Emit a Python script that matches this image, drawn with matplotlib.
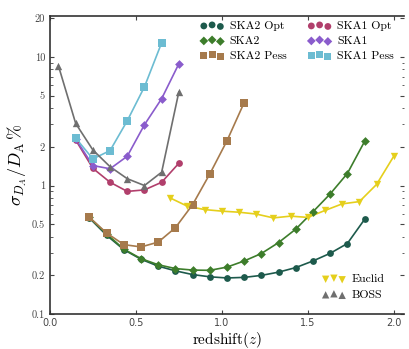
import matplotlib
matplotlib.use('Agg')
import matplotlib.pyplot as plt
from matplotlib.ticker import FixedLocator, NullFormatter, LogLocator

plt.rcParams['mathtext.fontset'] = 'cm'
plt.rcParams['font.family'] = ['cmr10', 'DejaVu Serif']
plt.rcParams['axes.formatter.use_mathtext'] = True

# redshift bins
z_ska2 = [0.23, 0.33, 0.43, 0.53, 0.63, 0.73, 0.83, 0.93, 1.03, 1.13,
          1.23, 1.33, 1.43, 1.53, 1.63, 1.73, 1.83]
z_ska2_pess = z_ska2[:10]
z_ska1 = [0.15, 0.25, 0.35, 0.45, 0.55, 0.65, 0.75]
z_ska1_pess = z_ska1[:6]
z_euclid = [0.7, 0.8, 0.9, 1.0, 1.1, 1.2, 1.3, 1.4, 1.5, 1.6, 1.7, 1.8, 1.9, 2.0]
z_boss = [0.05, 0.15, 0.25, 0.35, 0.45, 0.55, 0.65, 0.75]

# sigma_DA / DA in %
ska2_opt = [0.558, 0.41, 0.317, 0.267, 0.236, 0.217, 0.203, 0.195, 0.191, 0.193,
            0.20, 0.212, 0.23, 0.259, 0.297, 0.354, 0.545]
ska2 = [0.565, 0.42, 0.32, 0.27, 0.242, 0.226, 0.22, 0.219, 0.232, 0.259,
        0.296, 0.36, 0.458, 0.625, 0.86, 1.24, 2.2]
ska2_pess = [0.565, 0.427, 0.347, 0.333, 0.363, 0.47, 0.71, 1.23, 2.23, 4.42]
ska1_opt = [2.26, 1.36, 1.06, 0.90, 0.925, 1.06, 1.49]
ska1 = [2.30, 1.43, 1.35, 1.69, 2.97, 4.74, 8.85]
ska1_pess = [2.34, 1.61, 1.87, 3.19, 5.86, 12.9]
euclid = [0.80, 0.69, 0.65, 0.632, 0.62, 0.60, 0.56, 0.578, 0.565, 0.64,
          0.72, 0.75, 1.02, 1.69]
boss = [8.5, 3.04, 1.89, 1.40, 1.13, 1.0, 1.27, 5.35]

fig = plt.figure(figsize=(4.09, 3.49), dpi=100)
ax = fig.add_axes([0.122, 0.1, 0.866, 0.854])

series = [
    (z_ska2, ska2_opt, '#1d5a4c', 'o', 'SKA2 Opt'),
    (z_ska2, ska2, '#3d7d2b', 'D', 'SKA2'),
    (z_ska2_pess, ska2_pess, '#a67a4c', 's', 'SKA2 Pess'),
    (z_ska1, ska1_opt, '#b13f6c', 'o', 'SKA1 Opt'),
    (z_ska1, ska1, '#8a5ccc', 'D', 'SKA1'),
    (z_ska1_pess, ska1_pess, '#6cbcd2', 's', 'SKA1 Pess'),
]
others = [
    (z_euclid, euclid, '#e5cf1c', 'v', 'Euclid'),
    (z_boss, boss, '#6f6f6f', '^', 'BOSS'),
]

sizes = {'o': 24, 'D': 20, 's': 26}

handles1 = []
for z, v, c, m, lab in series:
    ax.plot(z, v, color=c, lw=1.2, zorder=2)
    h = ax.scatter(z, v, color=c, marker=m, s=sizes[m], zorder=3, label=lab,
                   linewidths=0)
    handles1.append(h)

handles2 = []
for z, v, c, m, lab in others:
    ax.plot(z, v, color=c, lw=1.2, zorder=2)
    h = ax.scatter(z, v, color=c, marker=m, s=28, zorder=3, label=lab, linewidths=0)
    handles2.append(h)

ax.set_yscale('log')
ax.set_xlim(0, 2.06)
ax.set_ylim(0.1, 20.8)
ax.yaxis.set_major_locator(FixedLocator([0.1, 0.2, 0.5, 1, 2, 5, 10, 20]))
ax.yaxis.set_minor_locator(LogLocator(base=10, subs=range(2, 10)))
ax.yaxis.set_minor_formatter(NullFormatter())
ax.set_yticklabels(['0.1', '0.2', '0.5', '1', '2', '5', '10', '20'])
ax.set_xticks([0.0, 0.5, 1.0, 1.5, 2.0])
ax.set_xticklabels(['0.0', '0.5', '1.0', '1.5', '2.0'])

ax.tick_params(axis='both', which='both', direction='in', top=True, right=True,
               colors='#444444', labelsize=7.5)
ax.tick_params(which='major', length=3, width=0.8)
ax.tick_params(which='minor', length=1.8, width=0.6)
ax.tick_params(axis='x', pad=3)
for lbl in ax.get_xticklabels():
    lbl.set_fontfamily('DejaVu Sans')
    lbl.set_fontsize(7)
for sp in ['left', 'bottom', 'top']:
    ax.spines[sp].set_color('#333333')
    ax.spines[sp].set_linewidth(1.2)
ax.spines['right'].set_visible(False)

ax.set_xlabel(r'redshift$(z)$', fontsize=11, labelpad=1)
ax.set_ylabel(r'$\sigma_{D_A}/D_\mathrm{A}\,\%$', fontsize=13, labelpad=2)

leg1 = ax.legend(handles=handles1, ncol=2, loc='upper right', frameon=False,
                 scatterpoints=3, fontsize=8.5, handletextpad=0.5,
                 columnspacing=1.8, labelspacing=0.4,
                 bbox_to_anchor=(0.985, 1.0), borderaxespad=0.0)
ax.add_artist(leg1)
ax.legend(handles=handles2, loc='lower right', frameon=False, scatterpoints=3,
          fontsize=8.5, handletextpad=0.5, labelspacing=0.45,
          bbox_to_anchor=(0.985, 0.0), borderaxespad=0.8)

fig.savefig('out.png', dpi=100)
